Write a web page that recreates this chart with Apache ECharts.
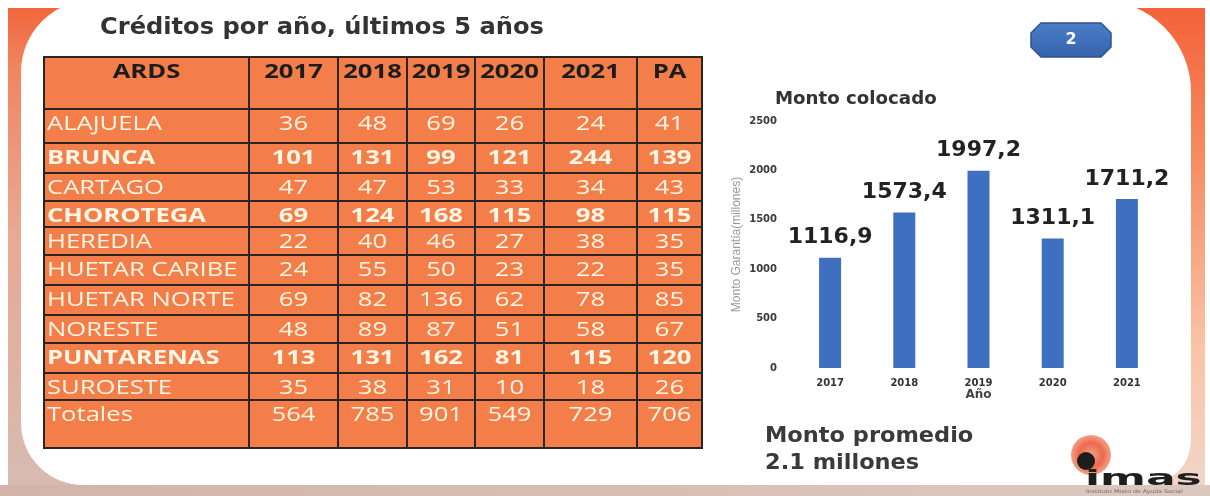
<!DOCTYPE html>
<html>
<head>
<meta charset="utf-8">
<script src="https://cdn.jsdelivr.net/npm/echarts@6/dist/echarts.min.js"></script>
<style>
html,body{margin:0;padding:0;background:#fff;}
#main{width:1210px;height:496px;}
</style>
</head>
<body>
<div id="main"></div>
<script>
// ---------- DATA ----------
const slideTitle = 'Créditos por año, últimos 5 años';
const tableHeaders = ['ARDS', '2017', '2018', '2019', '2020', '2021', 'PA'];
const ards = ['ALAJUELA', 'BRUNCA', 'CARTAGO', 'CHOROTEGA', 'HEREDIA', 'HUETAR CARIBE', 'HUETAR NORTE', 'NORESTE', 'PUNTARENAS', 'SUROESTE', 'Totales'];
const v2017 = [36, 101, 47, 69, 22, 24, 69, 48, 113, 35, 564];
const v2018 = [48, 131, 47, 124, 40, 55, 82, 89, 131, 38, 785];
const v2019 = [69, 99, 53, 168, 46, 50, 136, 87, 162, 31, 901];
const v2020 = [26, 121, 33, 115, 27, 23, 62, 51, 81, 10, 549];
const v2021 = [24, 244, 34, 98, 38, 22, 78, 58, 115, 18, 729];
const vPA = [41, 139, 43, 115, 35, 35, 85, 67, 120, 26, 706];
const boldRows = ['BRUNCA', 'CHOROTEGA', 'PUNTARENAS'];

const chartTitle = 'Monto colocado';
const chartYears = ['2017', '2018', '2019', '2020', '2021'];
const montoColocado = [1116.9, 1573.4, 1997.2, 1311.1, 1711.2];
const yAxisName = 'Monto Garantía(millones)';
const xAxisName = 'Año';
const noteLines = ['Monto promedio', '2.1 millones'];
const pageNumber = '2';

// ---------- LAYOUT ----------
const colEdges = [44, 249, 338, 407, 475, 544, 637, 702];
const rowEdges = [57, 109, 143, 173, 201, 227, 255, 285, 315, 343, 373, 400, 448];
const tableFont = 'Open Sans';
const tableScaleX = 1.28;

const columns = [v2017, v2018, v2019, v2020, v2021, vPA];

function txt(x, y, text, opts) {
  opts = opts || {};
  return {
    type: 'text', x: x, y: y, z: opts.z || 5,
    scaleX: opts.scaleX || 1, scaleY: opts.scaleY || 1,
    style: {
      text: text,
      fill: opts.fill || '#333',
      fontSize: opts.fontSize || 14,
      fontFamily: opts.fontFamily || 'DejaVu Sans',
      fontWeight: opts.fontWeight || 'normal',
      align: opts.align || 'left', textAlign: opts.align || 'left',
      verticalAlign: 'middle', textVerticalAlign: 'middle'
    }
  };
}

const graphics = [];
// slide frame
graphics.push({type: 'rect', z: 0, shape: {x: 8, y: 8, width: 600, height: 488},
  style: {fill: new echarts.graphic.LinearGradient(0, 0, 0, 1, [
    {offset: 0, color: '#F2663A'}, {offset: 0.12, color: '#F08560'},
    {offset: 0.45, color: '#E9A893'}, {offset: 1, color: '#D6BCB2'}])}});
graphics.push({type: 'rect', z: 0, shape: {x: 600, y: 8, width: 605, height: 488},
  style: {fill: new echarts.graphic.LinearGradient(0, 0, 0, 1, [
    {offset: 0, color: '#F4633A'}, {offset: 0.3, color: '#F68B60'},
    {offset: 0.7, color: '#F9C4A8'}, {offset: 1, color: '#F1D6CA'}])}});
graphics.push({type: 'rect', z: 0, shape: {x: 0, y: 485, width: 1210, height: 11},
  style: {fill: new echarts.graphic.LinearGradient(0, 0, 1, 0, [
    {offset: 0, color: '#D2B4A9'}, {offset: 1, color: '#DCC8C0'}])}});
graphics.push({type: 'rect', z: 1, shape: {x: 21, y: 0, width: 1170, height: 485, r: [72, 92, 45, 62]},
  style: {fill: '#ffffff'}});

// slide title
graphics.push(txt(100, 28, slideTitle, {fontSize: 23, fontWeight: 'bold', fill: '#333333', scaleX: 1.05}));

// table cells
const nCols = colEdges.length - 1;
// header row
for (let c = 0; c < nCols; c++) {
  graphics.push({type: 'rect', z: 3, shape: {x: colEdges[c], y: rowEdges[0], width: colEdges[c + 1] - colEdges[c], height: rowEdges[1] - rowEdges[0]},
    style: {fill: '#F47E4A', stroke: '#2B2420', lineWidth: 2}});
  graphics.push(txt((colEdges[c] + colEdges[c + 1]) / 2, rowEdges[0] + 15, tableHeaders[c],
    {fontSize: 20, fontWeight: 'bold', fill: '#1c1c1c', align: 'center', fontFamily: tableFont, scaleX: tableScaleX}));
}
// data rows
ards.forEach(function (name, r) {
  const top = rowEdges[r + 1], bottom = rowEdges[r + 2];
  const bold = boldRows.indexOf(name) >= 0;
  const ty = top + 15;
  for (let c = 0; c < nCols; c++) {
    graphics.push({type: 'rect', z: 3, shape: {x: colEdges[c], y: top, width: colEdges[c + 1] - colEdges[c], height: bottom - top},
      style: {fill: '#F47E4A', stroke: '#2B2420', lineWidth: 2}});
  }
  graphics.push(txt(colEdges[0] + 3, ty, name,
    {fontSize: 20, fontWeight: bold ? 'bold' : 'normal', fill: '#FFF6E4', fontFamily: tableFont, scaleX: tableScaleX}));
  columns.forEach(function (col, c) {
    graphics.push(txt((colEdges[c + 1] + colEdges[c + 2]) / 2, ty, String(col[r]),
      {fontSize: 20, fontWeight: bold ? 'bold' : 'normal', fill: '#FFF6E4', align: 'center', fontFamily: tableFont, scaleX: tableScaleX}));
  });
});

// chart title
graphics.push(txt(775, 100, chartTitle, {fontSize: 17, fontWeight: 'bold', fill: '#333333', scaleX: 1.07}));
// notes
graphics.push(txt(765, 437, noteLines[0], {fontSize: 21, fontWeight: 'bold', fill: '#3a3a3a', scaleX: 1.07}));
graphics.push(txt(765, 464, noteLines[1], {fontSize: 21, fontWeight: 'bold', fill: '#3a3a3a', scaleX: 1.07}));

// page number octagon
graphics.push({type: 'polygon', z: 4, shape: {points: [[1041, 23], [1101, 23], [1111, 33], [1111, 47], [1101, 57], [1041, 57], [1031, 47], [1031, 33]]},
  style: {fill: new echarts.graphic.LinearGradient(0, 0, 0, 1, [{offset: 0, color: '#4C7FC8'}, {offset: 1, color: '#3462AB'}]), stroke: '#2D5393', lineWidth: 1.5}});
graphics.push(txt(1071, 40, pageNumber, {fontSize: 16, fontWeight: 'bold', fill: '#ffffff', align: 'center'}));

// logo
graphics.push({type: 'circle', z: 4, shape: {cx: 1091, cy: 455, r: 20},
  style: {fill: new echarts.graphic.RadialGradient(0.5, 0.5, 0.5, [{offset: 0, color: '#F0A48C'}, {offset: 0.6, color: '#EC6A4E'}, {offset: 1, color: '#F3A088'}])}});
graphics.push({type: 'circle', z: 5, shape: {cx: 1086, cy: 461, r: 9}, style: {fill: '#1d1d1d'}});
graphics.push(txt(1085, 479, 'imas', {fontSize: 22, fontWeight: 900, fill: '#1e1e1e', scaleX: 2.0, z: 6}));
graphics.push(txt(1086, 492, 'Instituto Mixto de Ayuda Social', {fontSize: 5, fill: '#666', scaleX: 1.25, z: 6}));

const chart = echarts.init(document.getElementById('main'));
chart.setOption({
  animation: false,
  backgroundColor: '#ffffff',
  graphic: {elements: graphics},
  grid: {left: 793, right: 46, top: 121, bottom: 128, containLabel: false},
  xAxis: {
    type: 'category', data: chartYears, z: 20,
    name: xAxisName, nameLocation: 'middle', nameGap: 12,
    nameTextStyle: {fontSize: 12, fontWeight: 'bold', color: '#444', fontFamily: 'DejaVu Sans'},
    axisLine: {show: false}, axisTick: {show: false},
    axisLabel: {fontSize: 10, fontWeight: 'bold', color: '#333', fontFamily: 'DejaVu Sans', margin: 10}
  },
  yAxis: {
    type: 'value', min: 0, max: 2500, interval: 500, z: 20,
    name: yAxisName, nameLocation: 'middle', nameGap: 50, nameRotate: 90,
    nameTextStyle: {fontSize: 12, color: '#9a9a9a', fontFamily: 'Liberation Sans'},
    axisLine: {show: false}, axisTick: {show: false},
    splitLine: {show: false},
    axisLabel: {fontSize: 10, fontWeight: 'bold', color: '#3a3a3a', fontFamily: 'DejaVu Sans', margin: 16,
      formatter: function (v) { return String(v); }}
  },
  series: [{
    type: 'bar', data: montoColocado, barWidth: 22, z: 20,
    itemStyle: {color: '#3E6FC1'},
    label: {
      show: true, position: 'top', distance: 9,
      formatter: function (p) { return p.value.toFixed(1).replace('.', ','); },
      fontSize: 22, fontWeight: 'bold', color: '#222', fontFamily: 'DejaVu Sans'
    }
  }]
});
</script>
</body>
</html>
